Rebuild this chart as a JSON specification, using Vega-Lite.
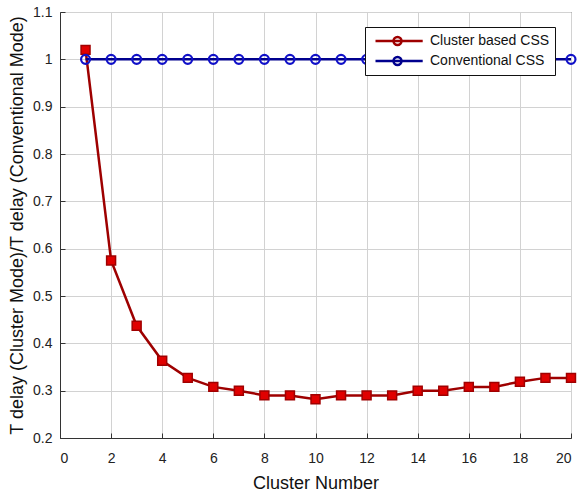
{
  "$schema": "https://vega.github.io/schema/vega-lite/v6.json",
  "width": 511,
  "height": 426,
  "autosize": "none",
  "padding": {"left": 60, "top": 12, "right": 8, "bottom": 55},
  "background": "white",
  "config": {
    "font": "Liberation Sans",
    "view": {"stroke": "#333333", "strokeWidth": 1},
    "axis": {
      "gridColor": "#d2d2d2",
      "gridWidth": 1,
      "gridOpacity": 1,
      "domainColor": "#333333",
      "tickColor": "#333333",
      "tickSize": -5,
      "labelFont": "Liberation Sans",
      "labelFontSize": 14,
      "labelColor": "#222222",
      "titleFont": "Liberation Sans",
      "titleFontWeight": "normal",
      "titleColor": "#111111"
    }
  },
  "data": {
    "values": [
      {"n": 1, "v": 1.02, "s": "Cluster based CSS"},
      {"n": 2, "v": 0.575, "s": "Cluster based CSS"},
      {"n": 3, "v": 0.437, "s": "Cluster based CSS"},
      {"n": 4, "v": 0.363, "s": "Cluster based CSS"},
      {"n": 5, "v": 0.327, "s": "Cluster based CSS"},
      {"n": 6, "v": 0.308, "s": "Cluster based CSS"},
      {"n": 7, "v": 0.3, "s": "Cluster based CSS"},
      {"n": 8, "v": 0.29, "s": "Cluster based CSS"},
      {"n": 9, "v": 0.29, "s": "Cluster based CSS"},
      {"n": 10, "v": 0.282, "s": "Cluster based CSS"},
      {"n": 11, "v": 0.29, "s": "Cluster based CSS"},
      {"n": 12, "v": 0.29, "s": "Cluster based CSS"},
      {"n": 13, "v": 0.29, "s": "Cluster based CSS"},
      {"n": 14, "v": 0.3, "s": "Cluster based CSS"},
      {"n": 15, "v": 0.3, "s": "Cluster based CSS"},
      {"n": 16, "v": 0.308, "s": "Cluster based CSS"},
      {"n": 17, "v": 0.308, "s": "Cluster based CSS"},
      {"n": 18, "v": 0.319, "s": "Cluster based CSS"},
      {"n": 19, "v": 0.327, "s": "Cluster based CSS"},
      {"n": 20, "v": 0.327, "s": "Cluster based CSS"},
      {"n": 1, "v": 1.0, "s": "Conventional CSS"},
      {"n": 2, "v": 1.0, "s": "Conventional CSS"},
      {"n": 3, "v": 1.0, "s": "Conventional CSS"},
      {"n": 4, "v": 1.0, "s": "Conventional CSS"},
      {"n": 5, "v": 1.0, "s": "Conventional CSS"},
      {"n": 6, "v": 1.0, "s": "Conventional CSS"},
      {"n": 7, "v": 1.0, "s": "Conventional CSS"},
      {"n": 8, "v": 1.0, "s": "Conventional CSS"},
      {"n": 9, "v": 1.0, "s": "Conventional CSS"},
      {"n": 10, "v": 1.0, "s": "Conventional CSS"},
      {"n": 11, "v": 1.0, "s": "Conventional CSS"},
      {"n": 12, "v": 1.0, "s": "Conventional CSS"},
      {"n": 13, "v": 1.0, "s": "Conventional CSS"},
      {"n": 14, "v": 1.0, "s": "Conventional CSS"},
      {"n": 15, "v": 1.0, "s": "Conventional CSS"},
      {"n": 16, "v": 1.0, "s": "Conventional CSS"},
      {"n": 17, "v": 1.0, "s": "Conventional CSS"},
      {"n": 18, "v": 1.0, "s": "Conventional CSS"},
      {"n": 19, "v": 1.0, "s": "Conventional CSS"},
      {"n": 20, "v": 1.0, "s": "Conventional CSS"}
    ]
  },
  "encoding": {
    "x": {
      "field": "n",
      "type": "quantitative",
      "scale": {"domain": [0, 20], "nice": false},
      "axis": {
        "values": [0, 2, 4, 6, 8, 10, 12, 14, 16, 18, 20],
        "title": "Cluster Number",
        "titleFontSize": 18,
        "labelPadding": 18,
        "titlePadding": 9
      }
    },
    "y": {
      "field": "v",
      "type": "quantitative",
      "scale": {"domain": [0.2, 1.1], "nice": false, "zero": false},
      "axis": {
        "values": [0.2, 0.3, 0.4, 0.5, 0.6, 0.7, 0.8, 0.9, 1.0, 1.1],
        "format": "~g",
        "title": "T delay (Cluster Mode)/T delay (Conventional Mode)",
        "titleFontSize": 18,
        "labelPadding": 13,
        "titlePadding": 6
      }
    }
  },
  "layer": [
    {
      "mark": {"type": "line", "strokeWidth": 2.5},
      "encoding": {
        "color": {
          "field": "s",
          "type": "nominal",
          "scale": {
            "domain": ["Cluster based CSS", "Conventional CSS"],
            "range": ["#9e0000", "#00008e"]
          },
          "legend": {
            "title": null,
            "orient": "none",
            "legendX": 305,
            "legendY": 15,
            "strokeColor": "#111111",
            "fillColor": "white",
            "padding": 5,
            "symbolType": "M-0.5,0H5.4M1.75,0a0.5,0.5 0 1,0 1,0a0.5,0.5 0 1,0 -1,0",
            "symbolSize": 256,
            "symbolStrokeWidth": 2.5,
            "symbolFillColor": "white",
            "labelFontSize": 14,
            "labelFont": "Liberation Sans",
            "labelColor": "#111111",
            "labelOffset": 41,
            "clipHeight": 18,
            "rowPadding": 2
          }
        }
      }
    },
    {
      "transform": [{"filter": "datum.s === 'Cluster based CSS'"}],
      "mark": {
        "type": "point",
        "shape": "square",
        "filled": true,
        "fill": "#e00000",
        "stroke": "#a00000",
        "strokeWidth": 1.5,
        "size": 80,
        "opacity": 1
      }
    },
    {
      "transform": [{"filter": "datum.s === 'Conventional CSS'"}],
      "mark": {
        "type": "point",
        "shape": "circle",
        "filled": false,
        "stroke": "#1010c8",
        "strokeWidth": 2.2,
        "size": 80,
        "opacity": 1
      }
    }
  ]
}
